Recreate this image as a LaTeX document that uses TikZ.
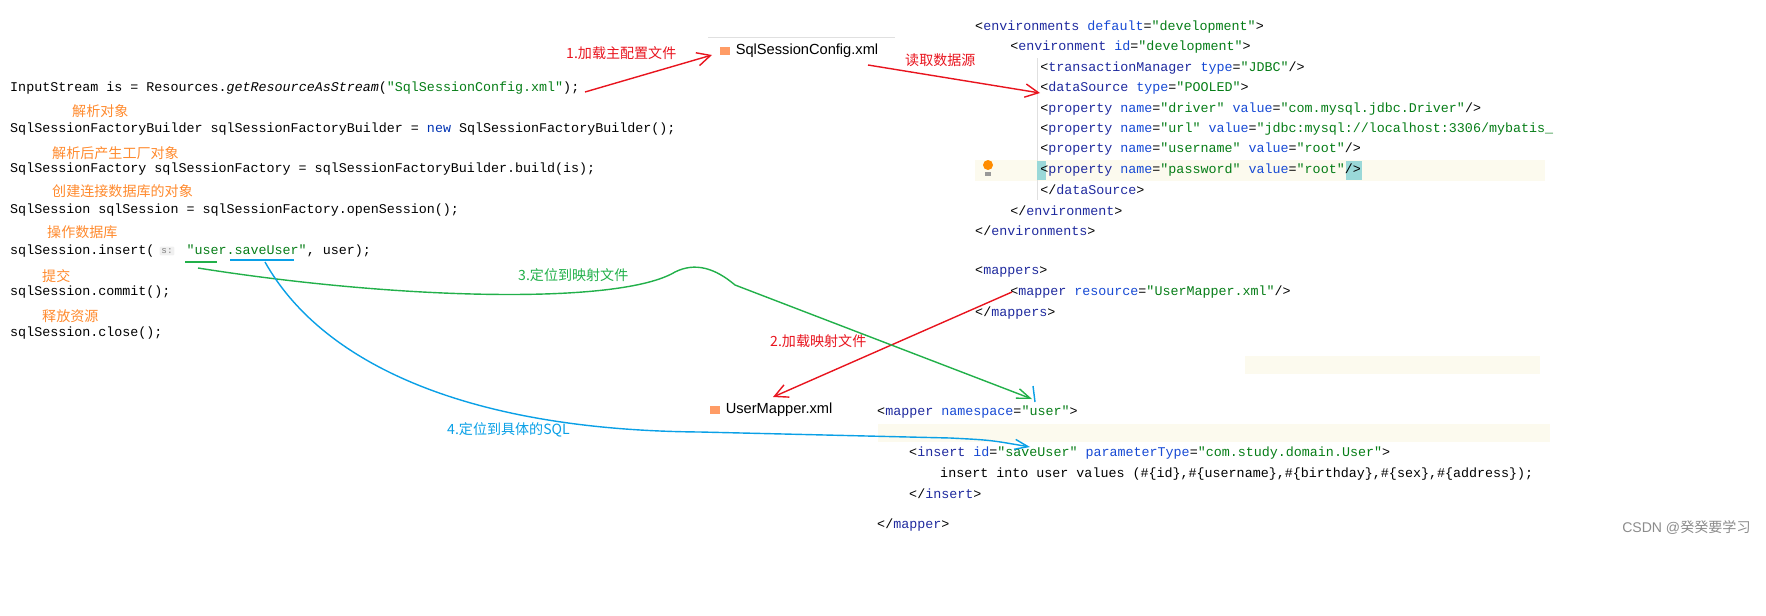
\documentclass[tikz,border=0pt]{standalone}
\usepackage{fontspec}
\setmainfont{Liberation Sans}
\newfontfamily\codefont{Liberation Mono}
\newfontfamily\cjk{Noto Sans CJK SC}
\usetikzlibrary{positioning}
\usetikzlibrary{arrows.meta}
\definecolor{kwblue}{HTML}{0033B3}
\definecolor{tagblue}{HTML}{1F2A9E}
\definecolor{attrblue}{HTML}{174AD4}
\definecolor{strgreen}{HTML}{067D17}
\definecolor{noteorange}{HTML}{FF8A2E}
\definecolor{notered}{HTML}{E8141E}
\definecolor{notegreen}{HTML}{22B04A}
\definecolor{noteblue}{HTML}{0AA0E6}
\definecolor{rowbg}{HTML}{FCFAEE}
\definecolor{bracebg}{HTML}{9AD8D8}
\newcommand{\tg}[1]{\textcolor{tagblue}{#1}}
\newcommand{\at}[1]{\textcolor{attrblue}{#1}}
\newcommand{\vl}[1]{\textcolor{strgreen}{#1}}
\begin{document}
\begin{tikzpicture}[
  x=0.3mm, y=-0.3mm,
  code/.style={anchor=west, inner sep=0pt, font=\codefont\fontsize{11.4}{13}\selectfont},
  note/.style={anchor=west, inner sep=0pt, font=\cjk\fontsize{12}{14}\selectfont, text=noteorange},
  steplabel/.style={anchor=west, inner sep=0pt, font=\cjk\fontsize{12}{14}\selectfont},
  file/.style={anchor=west, inner sep=0pt, font=\fontsize{12.5}{14}\selectfont},
  icon/.style={draw=none, fill=orange!70!red!60, minimum width=3.2mm, minimum height=2.4mm, inner sep=0pt},
  redarrow/.style={-{Straight Barb[length=4mm,width=4mm]}, notered, line width=1.2pt},
  greenarrow/.style={-{Straight Barb[length=4mm,width=3mm]}, notegreen, line width=1.2pt},
  bluearrow/.style={-{Straight Barb[length=4mm,width=3mm]}, noteblue, line width=1.2pt}
]
\useasboundingbox (0,0) rectangle (1766,615);

% highlighted rows
\fill[rowbg] (975,160) rectangle (1545,181);
\fill[rowbg] (878,424) rectangle (1550,442);
\fill[rowbg] (1245,356) rectangle (1540,374);
\draw[black!12] (1037,58) -- (1037,200);
\draw[black!12] (708,37) -- (895,37);

% java code
\node[code] (c1) at (10,88) {InputStream is = Resources.\textit{getResourceAsStream}(\vl{"SqlSessionConfig.xml"});};
\node[code] (c2) at (10,129) {SqlSessionFactoryBuilder sqlSessionFactoryBuilder = \textcolor{kwblue}{new} SqlSessionFactoryBuilder();};
\node[code] (c3) at (10,169) {SqlSessionFactory sqlSessionFactory = sqlSessionFactoryBuilder.build(is);};
\node[code] (c4) at (10,210) {SqlSession sqlSession = sqlSessionFactory.openSession();};
\node[code] (c5) at (10,251) {sqlSession.insert(\hspace{2.4em}\vl{"user.saveUser"}, user);};
\node[code] (c6) at (10,292) {sqlSession.commit();};
\node[code] (c7) at (10,333) {sqlSession.close();};
\node[fill=black!6, rounded corners=1pt, inner sep=1.5pt, text=black!50, font=\codefont\fontsize{8}{9}\selectfont] (hint) at (167,251) {s:};

% comments
\node[note] (n1) at (72,111) {解析对象};
\node[note] (n2) at (52,153) {解析后产生工厂对象};
\node[note] (n3) at (52,191) {创建连接数据库的对象};
\node[note] (n4) at (47,232) {操作数据库};
\node[note] (n5) at (42,276) {提交};
\node[note] (n6) at (42,316) {释放资源};

% config file
\fill[bracebg] (1037,161) rectangle (1046,180);
\fill[bracebg] (1346,161) rectangle (1362,180);
\node[code] (x1) at (975,27) {<\tg{environments} \at{default}=\vl{"development"}>};
\node[code] (x2) at (1010,47) {<\tg{environment} \at{id}=\vl{"development"}>};
\node[code] (x3) at (1040,68) {<\tg{transactionManager} \at{type}=\vl{"JDBC"}/>};
\node[code] (x4) at (1040,88) {<\tg{dataSource} \at{type}=\vl{"POOLED"}>};
\node[code] (x5) at (1040,109) {<\tg{property} \at{name}=\vl{"driver"} \at{value}=\vl{"com.mysql.jdbc.Driver"}/>};
\node[code] (x6) at (1040,129) {<\tg{property} \at{name}=\vl{"url"} \at{value}=\vl{"jdbc:mysql://localhost:3306/mybatis\_}};
\node[code] (x7) at (1040,149) {<\tg{property} \at{name}=\vl{"username"} \at{value}=\vl{"root"}/>};
\node[code] (x8) at (1040,170) {<\tg{property} \at{name}=\vl{"password"} \at{value}=\vl{"root"}/>};
\node[code] (x9) at (1040,190) {</\tg{dataSource}>};
\node[code] (x10) at (1010,211) {</\tg{environment}>};
\node[code] (x11) at (975,231) {</\tg{environments}>};
\node[code] (x12) at (975,272) {<\tg{mappers}>};
\node[code] (x13) at (1010,292) {<\tg{mapper} \at{resource}=\vl{"UserMapper.xml"}/>};
\node[code] (x14) at (975,313) {</\tg{mappers}>};
\fill[orange!90!yellow] (988,165) circle (5);
\fill[black!40] (985,172) rectangle (991,176);

% mapper file
\node[code] (m1) at (877,412) {<\tg{mapper} \at{namespace}=\vl{"user"}>};
\node[code] (m2) at (909,453) {<\tg{insert} \at{id}=\vl{"saveUser"} \at{parameterType}=\vl{"com.study.domain.User"}>};
\node[code] (m3) at (940,474) {insert into user values (\#\{id\},\#\{username\},\#\{birthday\},\#\{sex\},\#\{address\});};
\node[code] (m4) at (909,494) {</\tg{insert}>};
\node[code] (m5) at (877,525) {</\tg{mapper}>};

% file names
\node[icon] (i1) at (725,51) {};
\node[file, right=1.5mm of i1] (cfg) {SqlSessionConfig.xml};
\node[icon] (i2) at (715,410) {};
\node[file, right=1.5mm of i2] (map) {UserMapper.xml};

% step labels
\node[steplabel, text=notered] (s1) at (566,53) {1.加载主配置文件};
\node[steplabel, text=notered] (s0) at (905,60) {读取数据源};
\node[steplabel, text=notered] (s2) at (770,341) {2.加载映射文件};
\node[steplabel, text=notegreen] (s3) at (518,275) {3.定位到映射文件};
\node[steplabel, text=noteblue] (s4) at (447,430) {4.定位到具体的SQL};
\node[anchor=west, inner sep=0pt, text=black!45, font=\fontsize{12}{14}\selectfont] (wm) at (1622,527) {CSDN @\cjk 癸癸要学习};

% connector points
\coordinate (r1a) at (585,92);
\coordinate (r1b) at (712,55);
\coordinate (r0a) at (868,65);
\coordinate (r0b) at (1040,93);
\coordinate (r2a) at (1012,292);
\coordinate (r2b) at (773,397);
\coordinate (g0) at (198,268);
\coordinate (g1) at (1032,399);
\coordinate (b0) at (265,262);
\coordinate (b1) at (1030,447);

% underlines
\draw[notegreen, line width=1.3pt] (185,262) -- (217,262);
\draw[noteblue, line width=1.3pt] (230,260) -- (294,260);

% arrows
\draw[redarrow] (r1a) -- (r1b);
\draw[redarrow] (r0a) -- (r0b);
\draw[redarrow] (r2a) -- (r2b);
\draw[greenarrow] (g0) .. controls (400,300) and (620,305) .. (675,272)
  .. controls (695,262) and (715,268) .. (735,285) -- (g1);
\draw[noteblue, line width=1.2pt] (1033,386) -- (1035,402);
\draw[bluearrow] (b0) .. controls (320,360) and (460,430) .. (700,432)
  -- (950,438) .. controls (990,440) .. (b1);

\end{tikzpicture}
\end{document}
